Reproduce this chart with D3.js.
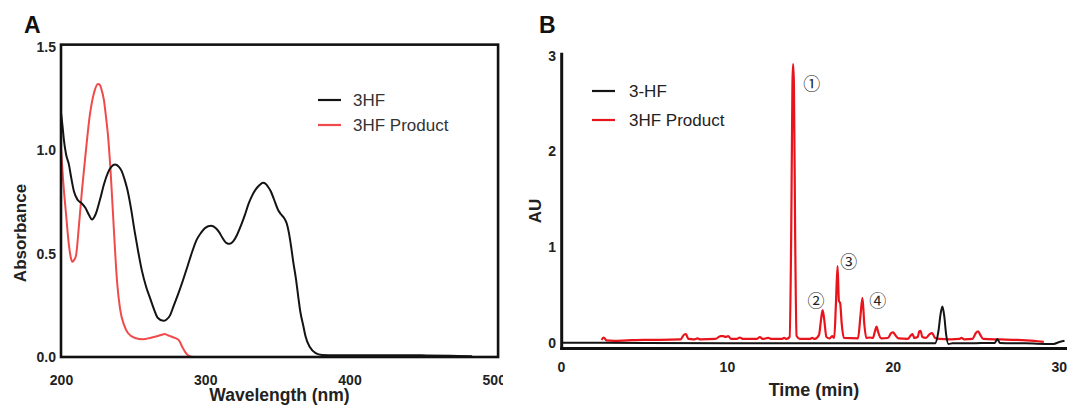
<!DOCTYPE html>
<html>
<head>
<meta charset="utf-8">
<script src="https://cdn.jsdelivr.net/npm/d3@7/dist/d3.min.js"></script>
<style>
  html, body { margin: 0; padding: 0; background: #fff; }
  svg { display: block; }
</style>
</head>
<body>
<svg id="fig" width="1078" height="408"></svg>
<script>
// ---------- Panel A: UV-Vis absorption spectra ----------
const wavelengthTicks = [200, 300, 400, 500];
const absorbanceTicks = [0.0, 0.5, 1.0, 1.5];

// 3HF spectrum: [wavelength (nm), absorbance]
const spectrum3HF = [
  [200, 1.18], [201, 1.12], [202, 1.05], [203.5, 0.98], [205.5, 0.93], [207, 0.87],
  [209, 0.80], [211.5, 0.76], [214, 0.745], [217, 0.72], [219.5, 0.685], [221.5, 0.665],
  [224, 0.69], [227, 0.76], [230, 0.84], [232.5, 0.89], [235, 0.92], [237.5, 0.93],
  [240, 0.92], [242, 0.90], [244, 0.86], [246, 0.81], [248.5, 0.72], [251, 0.61],
  [253.5, 0.51], [256, 0.42], [259, 0.34], [262, 0.28], [264.5, 0.23], [267, 0.19],
  [271, 0.175], [273, 0.18], [275.5, 0.20], [278, 0.245], [281, 0.30], [284.5, 0.37],
  [288, 0.445], [291, 0.51], [294, 0.566], [297, 0.60], [300, 0.624], [304, 0.634],
  [307, 0.625], [309.5, 0.605], [312, 0.575], [314.5, 0.552], [317, 0.547], [319.5, 0.56],
  [322, 0.59], [325, 0.64], [327.5, 0.687], [330, 0.74], [332.5, 0.78], [335, 0.81],
  [337.5, 0.83], [340, 0.842], [342, 0.836], [343.5, 0.823], [345.5, 0.80], [347.5, 0.765],
  [350.5, 0.711], [352.5, 0.69], [354.6, 0.672], [356.5, 0.645], [358, 0.60], [359.5, 0.535],
  [361, 0.46], [363, 0.372], [364.5, 0.29], [366, 0.215], [368, 0.15], [369.5, 0.10],
  [372.5, 0.048], [376.5, 0.019], [381, 0.01], [390, 0.008], [420, 0.009], [450, 0.008],
  [470, 0.006], [485, 0.004]
];

// 3HF Product spectrum: [wavelength (nm), absorbance]
const spectrumProduct = [
  [200, 1.01], [201.4, 0.86], [203.5, 0.69], [205.5, 0.54], [207, 0.475], [208, 0.46],
  [209.2, 0.47], [210.4, 0.49], [212.5, 0.64], [214.6, 0.81], [217.3, 1.00], [220, 1.17],
  [223, 1.28], [225.6, 1.32], [227, 1.315], [227.8, 1.30], [229.8, 1.24], [231.2, 1.16],
  [232.6, 1.07], [234.7, 0.86], [236.7, 0.61], [238.8, 0.37], [241, 0.23], [243.7, 0.155],
  [246.4, 0.116], [251.3, 0.092], [257, 0.086], [261.7, 0.092], [266.5, 0.10], [270, 0.108],
  [272, 0.111], [274, 0.105], [276, 0.10], [279, 0.092], [281.8, 0.08], [284, 0.05],
  [286, 0.025], [288.7, 0.005], [292, 0.0], [330, 0.0], [382, 0.0]
];

// ---------- Panel B: HPLC chromatograms ----------
const timeTicks = [0, 10, 20, 30];
const auTicks = [0, 1, 2, 3];

// 3-HF trace: [time (min), AU]
const trace3HF = [
  [0, 0.0], [5, -0.002], [10, -0.004], [15, -0.005], [20, -0.005], [22.55, -0.005],
  [22.75, 0.12], [22.88, 0.30], [22.99, 0.38], [23.1, 0.28], [23.22, 0.08], [23.35, -0.012],
  [23.6, -0.006], [25, -0.004], [26.15, -0.002], [26.3, 0.04], [26.45, -0.002],
  [28, -0.006], [29.2, -0.012], [29.7, -0.012], [30.0, 0.005], [30.35, 0.02]
];

// 3HF Product trace: [time (min), AU]
const traceProduct = [
  [2.45, 0.03], [2.56, 0.055], [2.62, 0.05], [2.72, 0.025], [3.2, 0.02], [4, 0.025],
  [5, 0.03], [6, 0.03], [7.2, 0.035], [7.42, 0.085], [7.53, 0.09], [7.68, 0.04],
  [8.0, 0.035], [8.23, 0.045], [8.4, 0.035], [9.3, 0.04], [9.62, 0.07], [9.78, 0.07],
  [9.92, 0.06], [10.08, 0.07], [10.25, 0.04], [10.6, 0.04], [10.78, 0.055], [10.95, 0.04],
  [11.8, 0.04], [11.99, 0.06], [12.15, 0.04], [12.49, 0.05], [12.7, 0.04], [13.3, 0.04],
  [13.45, 0.05], [13.6, 0.04], [13.78, 0.06], [13.88, 1.2], [13.95, 2.7], [13.99, 2.91],
  [14.04, 2.7], [14.11, 1.2], [14.2, 0.07], [14.4, 0.04], [15.0, 0.04], [15.14, 0.05],
  [15.3, 0.04], [15.55, 0.08], [15.68, 0.25], [15.77, 0.34], [15.86, 0.25], [16.0, 0.06],
  [16.2, 0.045], [16.34, 0.07], [16.47, 0.05], [16.57, 0.4], [16.67, 0.80], [16.75, 0.44],
  [16.83, 0.41], [16.92, 0.2], [17.05, 0.05], [17.9, 0.045], [18.06, 0.3], [18.17, 0.47],
  [18.28, 0.2], [18.4, 0.05], [18.61, 0.055], [18.8, 0.05], [18.94, 0.13], [19.02, 0.17],
  [19.12, 0.11], [19.3, 0.045], [19.7, 0.05], [19.9, 0.1], [20.02, 0.11], [20.15, 0.08],
  [20.35, 0.045], [20.9, 0.04], [21.1, 0.08], [21.19, 0.09], [21.3, 0.05], [21.5, 0.06],
  [21.6, 0.12], [21.67, 0.125], [21.78, 0.06], [22.0, 0.05], [22.22, 0.09], [22.37, 0.10],
  [22.55, 0.05], [22.8, 0.04], [23.5, 0.035], [24.0, 0.04], [24.14, 0.05], [24.3, 0.035],
  [24.8, 0.04], [25.0, 0.1], [25.14, 0.12], [25.28, 0.08], [25.45, 0.04], [26.5, 0.035],
  [27.5, 0.03], [28.5, 0.02], [29.1, 0.01]
];

// Numbered product peaks: label anchor [time, AU] and glyph
const peakLabels = [
  { t: 15.11, v: 2.72, text: "\u2460" },
  { t: 15.37, v: 0.447, text: "\u2461" },
  { t: 17.34, v: 0.857, text: "\u2462" },
  { t: 19.09, v: 0.447, text: "\u2463" }
];

const legendA = [
  { name: "3HF", color: "#141414" },
  { name: "3HF Product", color: "#ef4b4b" }
];
const legendB = [
  { name: "3-HF", color: "#141414" },
  { name: "3HF Product", color: "#e8141c" }
];

const svg = d3.select("#fig");
const FONT = "'Liberation Sans', Arial, Helvetica, sans-serif";

// ===== Panel A =====
const xA = d3.scaleLinear().domain([200, 500]).range([61, 493.75]);
const yA = d3.scaleLinear().domain([0, 1.5]).range([357, 46.7]);

svg.append("defs").append("clipPath").attr("id", "clipA")
  .append("rect").attr("x", 0).attr("y", 0).attr("width", 503).attr("height", 408);

const gA = svg.append("g").attr("clip-path", "url(#clipA)");

gA.append("text").text("A")
  .attr("x", 24).attr("y", 33)
  .attr("font-family", FONT).attr("font-weight", "bold").attr("font-size", 23)
  .attr("fill", "#111");

const lineA = d3.line().x(d => xA(d[0])).y(d => yA(d[1])).curve(d3.curveMonotoneX);

gA.append("path").datum(spectrumProduct)
  .attr("d", lineA).attr("fill", "none")
  .attr("stroke", legendA[1].color).attr("stroke-width", 2);
gA.append("path").datum(spectrum3HF)
  .attr("d", lineA).attr("fill", "none")
  .attr("stroke", legendA[0].color).attr("stroke-width", 2);

// plot frame
gA.append("rect")
  .attr("x", xA(200)).attr("y", yA(1.51))
  .attr("width", xA(503) - xA(200)).attr("height", yA(0) - yA(1.51))
  .attr("fill", "none").attr("stroke", "#111").attr("stroke-width", 2.6);

const axAx = gA.append("g").attr("transform", `translate(0,${yA(0)})`)
  .call(d3.axisBottom(xA).tickValues(wavelengthTicks).tickSize(0).tickPadding(18).tickFormat(d3.format("d")));
const axAy = gA.append("g").attr("transform", `translate(${xA(200) - 1},0)`)
  .call(d3.axisLeft(yA).tickValues(absorbanceTicks).tickSize(0).tickPadding(4).tickFormat(d3.format(".1f")));
[axAx, axAy].forEach(a => {
  a.select(".domain").remove();
  a.selectAll("text").attr("font-family", FONT).attr("font-weight", "bold")
    .attr("font-size", 14).attr("fill", "#222");
});

gA.append("text").text("Wavelength (nm)")
  .attr("x", (xA(200) + xA(503)) / 2).attr("y", 401)
  .attr("text-anchor", "middle")
  .attr("font-family", FONT).attr("font-weight", "bold").attr("font-size", 17.5).attr("fill", "#222");
gA.append("text").text("Absorbance")
  .attr("transform", "translate(25.5,233) rotate(-90)")
  .attr("text-anchor", "middle")
  .attr("font-family", FONT).attr("font-weight", "bold").attr("font-size", 17).attr("fill", "#222");

const legA = gA.append("g");
legendA.forEach((d, i) => {
  const yy = 100 + i * 25;
  legA.append("line").attr("x1", 318).attr("x2", 341).attr("y1", yy).attr("y2", yy)
    .attr("stroke", d.color).attr("stroke-width", 2.2);
  legA.append("text").text(d.name).attr("x", 353).attr("y", yy + 6)
    .attr("font-family", FONT).attr("font-size", 17).attr("fill", "#333");
});

// ===== Panel B =====
const xB = d3.scaleLinear().domain([0, 30.5]).range([561, 1067]);
const yB = d3.scaleLinear().domain([-0.06, 3.03]).range([348.5, 52.7]);

const gB = svg.append("g");

gB.append("text").text("B")
  .attr("x", 539).attr("y", 33)
  .attr("font-family", FONT).attr("font-weight", "bold").attr("font-size", 23)
  .attr("fill", "#111");

const lineB = d3.line().x(d => xB(d[0])).y(d => yB(d[1])).curve(d3.curveMonotoneX);

gB.append("path").datum(traceProduct)
  .attr("d", lineB).attr("fill", "none")
  .attr("stroke", legendB[1].color).attr("stroke-width", 2.2).attr("stroke-linejoin", "round");
gB.append("path").datum(trace3HF)
  .attr("d", lineB).attr("fill", "none")
  .attr("stroke", legendB[0].color).attr("stroke-width", 2).attr("stroke-linejoin", "round");

// axes
gB.append("line")
  .attr("x1", xB(0) + 0.7).attr("x2", xB(0) + 0.7)
  .attr("y1", yB(3.03)).attr("y2", yB(-0.06) + 1.5)
  .attr("stroke", "#111").attr("stroke-width", 3);
gB.append("line")
  .attr("x1", xB(0) - 0.8).attr("x2", xB(30.5))
  .attr("y1", yB(-0.06)).attr("y2", yB(-0.06))
  .attr("stroke", "#111").attr("stroke-width", 3);

const axBx = gB.append("g").attr("transform", `translate(0,${yB(-0.06)})`)
  .call(d3.axisBottom(xB).tickValues(timeTicks).tickSize(0).tickPadding(14).tickFormat(d3.format("d")));
const axBy = gB.append("g").attr("transform", `translate(${xB(0) - 1},0)`)
  .call(d3.axisLeft(yB).tickValues(auTicks).tickSize(0).tickPadding(4).tickFormat(d3.format("d")));
[axBx, axBy].forEach(a => {
  a.select(".domain").remove();
  a.selectAll("text").attr("font-family", FONT).attr("font-weight", "bold")
    .attr("font-size", 14).attr("fill", "#222");
});

gB.append("text").text("Time (min)")
  .attr("x", 814).attr("y", 396)
  .attr("text-anchor", "middle")
  .attr("font-family", FONT).attr("font-weight", "bold").attr("font-size", 18).attr("fill", "#222");
gB.append("text").text("AU")
  .attr("transform", "translate(541,211) rotate(-90)")
  .attr("text-anchor", "middle")
  .attr("font-family", FONT).attr("font-weight", "bold").attr("font-size", 17).attr("fill", "#222");

gB.selectAll("text.peak").data(peakLabels).join("text")
  .attr("class", "peak")
  .attr("x", d => xB(d.t)).attr("y", d => yB(d.v))
  .attr("text-anchor", "middle").attr("dominant-baseline", "central")
  .attr("font-family", "'Noto Sans CJK SC', 'DejaVu Sans', sans-serif")
  .attr("font-size", 17).attr("fill", "#222")
  .text(d => d.text);

const legB = gB.append("g");
legendB.forEach((d, i) => {
  const yy = 91 + i * 29;
  legB.append("line").attr("x1", 592).attr("x2", 615).attr("y1", yy).attr("y2", yy)
    .attr("stroke", d.color).attr("stroke-width", 2.2);
  legB.append("text").text(d.name).attr("x", 629).attr("y", yy + 6)
    .attr("font-family", FONT).attr("font-size", 17).attr("fill", "#222");
});
</script>
</body>
</html>
